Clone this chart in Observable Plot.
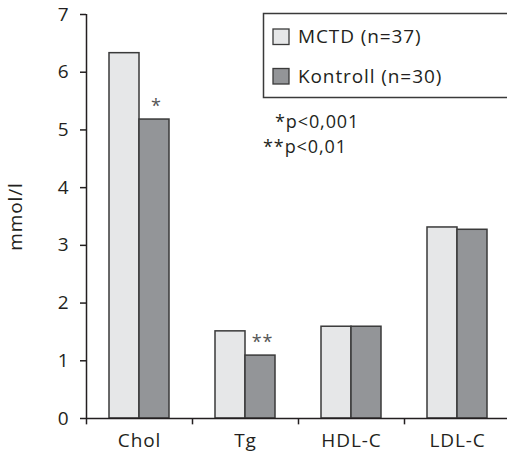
<!DOCTYPE html>
<html><head><meta charset="utf-8">
<script src="https://cdn.jsdelivr.net/npm/d3@7"></script>
<script src="https://cdn.jsdelivr.net/npm/@observablehq/plot@0.6"></script>
<style>html,body{margin:0;padding:0;background:#fff} svg text{letter-spacing:0.9px}</style>
</head><body><div id="chart"></div>
<script>
const categories = ["Chol", "Tg", "HDL-C", "LDL-C"];
const series = ["MCTD (n=37)", "Kontroll (n=30)"];
const mctd = [6.33, 1.51, 1.59, 3.31];
const kontroll = [5.18, 1.09, 1.59, 3.27];
const sigMarks = ["*", "**", "", ""];
const yTicks = [0, 1, 2, 3, 4, 5, 6, 7];
const notes = ["*p<0,001", "**p<0,01"];
const yLabel = "mmol/l";

const data = categories.flatMap((c, i) => [
  {cat: c, series: series[0], value: mctd[i]},
  {cat: c, series: series[1], value: kontroll[i]}
]);
const colors = ["#e6e7e8", "#939598"];
const ink = "#231f20";
const font = "'Open Sans', Lato, sans-serif";

const chart = Plot.plot({
  width: 507, height: 452,
  marginLeft: 86, marginRight: 0, marginTop: 14, marginBottom: 34,
  style: {fontFamily: font, fontSize: "19px", background: "#fff", color: ink},
  x: {domain: categories, range: [86, 510], padding: 0, axis: null},
  y: {domain: [0, 7], axis: null},
  color: {domain: series, range: colors},
  marks: [
    Plot.barY(data.filter(d => d.series === series[0]), {
      x: "cat", y: "value", fill: "series", stroke: "#3a3a3a", strokeWidth: 1.5,
      insetLeft: 23, insetRight: 53
    }),
    Plot.barY(data.filter(d => d.series === series[1]), {
      x: "cat", y: "value", fill: "series", stroke: "#3a3a3a", strokeWidth: 1.5,
      insetLeft: 53, insetRight: 23
    }),
    Plot.ruleY([0], {stroke: ink, strokeWidth: 1.5}),
    Plot.ruleX([categories[0]], {y1: 0, y2: 7, dx: -53, stroke: ink, strokeWidth: 1.5}),
    Plot.ruleX(categories, {y1: 0, y2: -0.11, dx: -53, stroke: ink, strokeWidth: 1.5}),
    Plot.axisY({ticks: yTicks, tickFormat: d3.format("d"), tickSize: 6, tickPadding: 11, fontSize: 19,
      stroke: ink, strokeWidth: 1.5,
      label: yLabel, labelAnchor: "center", labelOffset: 78, labelArrow: "none"}),
    Plot.axisX({tickSize: 0, tickPadding: 15, fontSize: 19, label: null}),
    Plot.text(categories, {x: d => d, y: (d, i) => kontroll[i], text: (d, i) => sigMarks[i],
      dx: 17, dy: -13, fill: "#555", fontSize: 18})
  ]
});
document.getElementById("chart").appendChild(chart);

const svg = d3.select(chart);
const g = svg.append("g").attr("font-family", font).attr("fill", ink).attr("text-anchor", "start");
g.append("rect").attr("x", 263.5).attr("y", 13.5).attr("width", 260).attr("height", 84)
  .attr("fill", "#fff").attr("stroke", "#3a3a3a").attr("stroke-width", 1.5);
series.forEach((s, i) => {
  g.append("rect").attr("x", 273).attr("y", 29 + i * 39.5).attr("width", 16).attr("height", 15.5)
    .attr("fill", colors[i]).attr("stroke", "#3a3a3a").attr("stroke-width", 1.3);
  g.append("text").attr("x", 298).attr("y", 43 + i * 39.5).attr("font-size", 19).text(s);
});
const noteX = [275, 263];
const noteY = [128, 153];
notes.forEach((n, i) => {
  g.append("text").attr("x", noteX[i]).attr("y", noteY[i]).attr("font-size", 18).text(n);
});
</script></body></html>
